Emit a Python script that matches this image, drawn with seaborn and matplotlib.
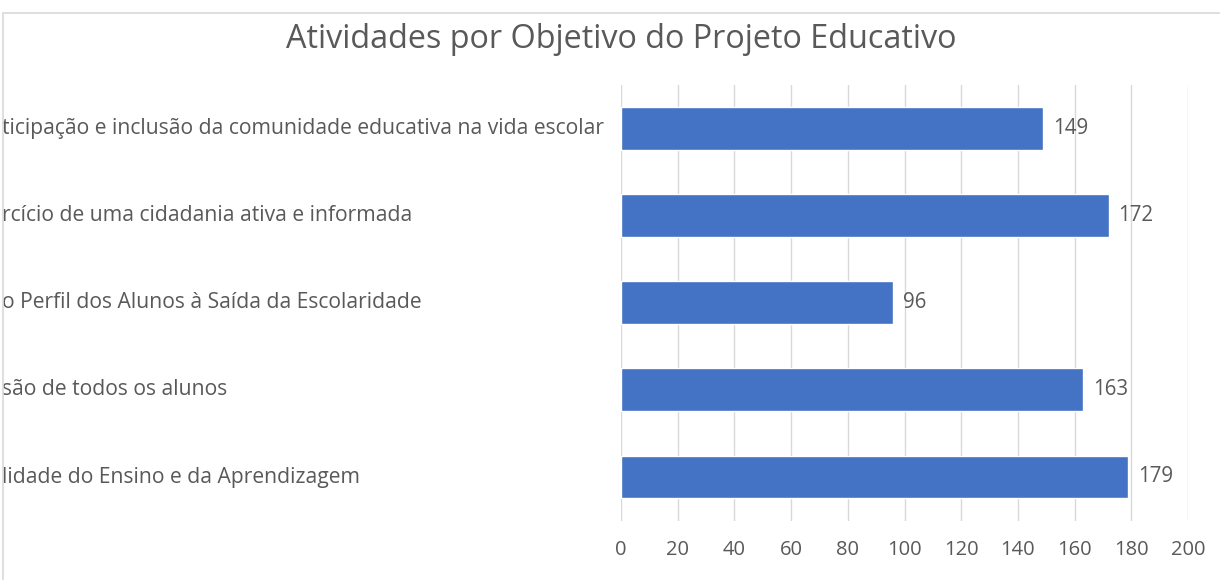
import matplotlib
matplotlib.use("Agg")
import matplotlib.pyplot as plt
import seaborn as sns
import pandas as pd
from matplotlib.patches import Rectangle

# labels as visible in the (cropped) reference, top to bottom
objetivos = [
    "ticipação e inclusão da comunidade educativa na vida escolar",
    "rcício de uma cidadania ativa e informada",
    "o Perfil dos Alunos à Saída da Escolaridade",
    "são de todos os alunos",
    "lidade do Ensino e da Aprendizagem",
]
atividades = [149, 172, 96, 163, 179]
x_ticks = [0, 20, 40, 60, 80, 100, 120, 140, 160, 180, 200]

df = pd.DataFrame({"objetivo": objetivos, "atividades": atividades})

sns.set_style("white")
plt.rcParams["font.family"] = ["Open Sans", "DejaVu Sans"]
grey = "#595959"

fig = plt.figure(figsize=(12.2, 5.8), dpi=100)
ax = fig.add_axes([621 / 1220, 1 - 520.6 / 580, 567 / 1220, 436 / 580])

sns.barplot(data=df, x="atividades", y="objetivo", color="#4472C4",
            width=0.49, saturation=1, ax=ax, zorder=3)

ax.set_xlim(0, 200)
ax.set_xticks(x_ticks)
ax.grid(axis="x", color="#D9D9D9", linewidth=1, zorder=0)
ax.grid(axis="y", visible=False)
for s in ax.spines.values():
    s.set_visible(False)

ax.set_xlabel("")
ax.set_ylabel("")
ax.tick_params(axis="x", length=0, pad=14, labelsize=14.5, labelcolor=grey)
ax.tick_params(axis="y", length=0, pad=(621 - 2) * 0.72, labelsize=15.2, labelcolor=grey)
for lbl in ax.get_yticklabels():
    lbl.set_horizontalalignment("left")
    lbl.set_verticalalignment("center")

for c in ax.containers:
    ax.bar_label(c, padding=7, fontsize=14.8, color=grey, label_type="edge")

fig.suptitle("Atividades por Objetivo do Projeto Educativo", x=621 / 1220,
             y=1 - 40 / 580, va="center", fontsize=23.3, color=grey)

# light chart frame, partly cropped like the reference
fig.patches.append(Rectangle((3 / 1220, -0.2), 1.2, 1.2 - 13 / 580,
                             transform=fig.transFigure, fill=False,
                             edgecolor="#D9D9D9", linewidth=1.2, zorder=0))

fig.savefig("out.png", dpi=100, facecolor="white")
